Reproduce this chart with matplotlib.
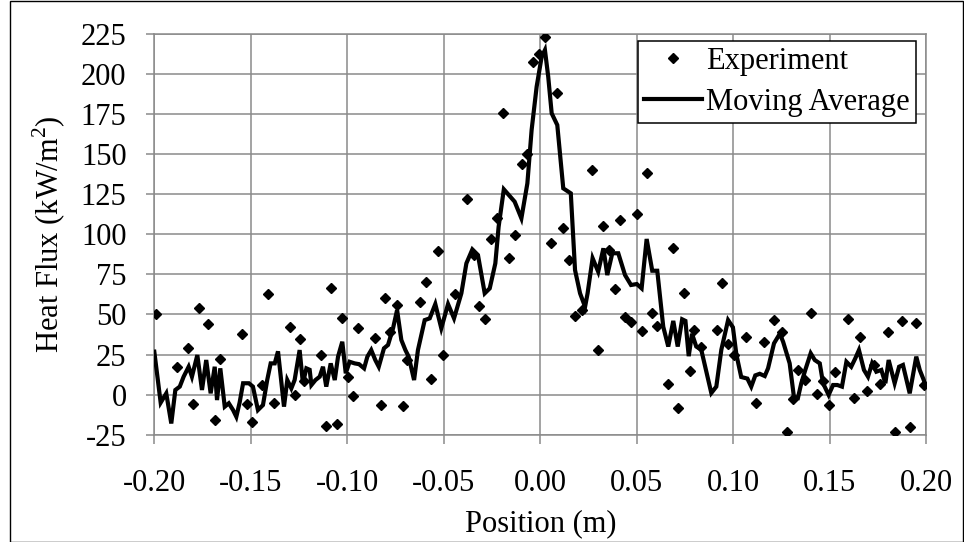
import matplotlib
matplotlib.use('Agg')
import matplotlib.pyplot as plt
from matplotlib.patches import Rectangle
import numpy as np

# measured points (position in m, heat flux in kW/m2)
exp_x = [-0.199, -0.188, -0.1825, -0.180, -0.177, -0.172, -0.1687, -0.166,
         -0.1547, -0.152, -0.1494, -0.144, -0.1409, -0.1381, -0.1298, -0.1273,
         -0.1247, -0.1224, -0.1138, -0.1109, -0.1083, -0.1053, -0.1026, -0.0996,
         -0.0969, -0.0943, -0.0858, -0.0827, -0.0803, -0.0779, -0.0742, -0.0713,
         -0.0689, -0.0622, -0.0594, -0.0565, -0.0532, -0.0504, -0.044, -0.0381,
         -0.0345, -0.0319, -0.0288, -0.0257, -0.0224, -0.0195, -0.0162, -0.0129,
         -0.0096, -0.007, -0.0039, -0.0008, 0.0024, 0.0056, 0.0087, 0.0117,
         0.015, 0.018, 0.0215, 0.0268, 0.030, 0.0327, 0.0358, 0.0385,
         0.0413, 0.0439, 0.0468, 0.050, 0.0528, 0.0551, 0.058, 0.0606,
         0.066, 0.0689, 0.0715, 0.0746, 0.0775, 0.0797, 0.0834, 0.0913,
         0.0944, 0.0973, 0.1002, 0.1064, 0.112, 0.1157, 0.1212, 0.125,
         0.1276, 0.131, 0.1336, 0.1369, 0.1402, 0.1433, 0.1466, 0.1496,
         0.1528, 0.1595, 0.1623, 0.1657, 0.1694, 0.1727, 0.1762, 0.1803,
         0.1838, 0.1876, 0.1915, 0.1948, 0.1989]
exp_y = [50, 17, 29, -6, 54, 44, -16, 22,
         38, -6, -17, 6, 63, -5, 42, 0,
         35, 8.5, 25, -19.5, 66.5, -18.5, 48, 11,
         -1, 41.5, 35.5, -6.5, 60, 39, 56, -7,
         21.6, 57.6, 70, 9.6, 89.4, 24.7, 62.8, 122,
         87, 55, 47, 97, 110.5, 176, 85, 99.5,
         144, 150, 207.7, 212.3, 223, 94.3, 188, 104,
         84, 49.3, 53, 140, 28, 105.4, 90, 65.6,
         109, 48.4, 45.6, 112.8, 40, 138, 50.8, 43,
         6.8, 91.3, -8.5, 63.2, 14.8, 40.3, 29.6, 40.3,
         69.4, 31.3, 24.7, 35.8, -5.4, 33, 46.3, 38.8,
         -23.2, -2.6, 15.6, 9.4, 50.7, 0.5, 8.6, -6.5,
         14.3, 47.2, -2.3, 35.8, 2.1, 18.7, 6.5, 38.9,
         -23.4, 46, -20.2, 44.6, 6]

# moving average curve
avg_x = [-0.2, -0.1967, -0.1938, -0.1912, -0.1891, -0.1868, -0.1848, -0.1822,
         -0.1805, -0.1777, -0.1753, -0.1731, -0.1708, -0.1687, -0.1675, -0.1658,
         -0.1635, -0.1614, -0.1592, -0.1575, -0.1558, -0.154, -0.151, -0.1489,
         -0.1463, -0.1437, -0.1415, -0.1397, -0.1376, -0.1359, -0.1328, -0.1311,
         -0.129, -0.1273, -0.1247, -0.123, -0.1212, -0.1195, -0.1186, -0.1165,
         -0.1143, -0.1126, -0.1109, -0.1086, -0.1065, -0.1048, -0.1026, -0.1008,
         -0.0988, -0.0962, -0.0939, -0.0913, -0.0896, -0.0876, -0.0855, -0.0837,
         -0.081, -0.0789, -0.0763, -0.0742, -0.072, -0.0699, -0.0682, -0.0654,
         -0.0634, -0.0599, -0.0573, -0.0544, -0.0513, -0.0478, -0.0447, -0.0409,
         -0.0383, -0.0352, -0.0323, -0.0288, -0.0262, -0.0233, -0.0216, -0.0189,
         -0.0133, -0.0098, -0.0067, -0.0045, -0.0019, 0.0007, 0.0024, 0.0041,
         0.0059, 0.0088, 0.0119, 0.0158, 0.018, 0.0206, 0.0232, 0.0245,
         0.0271, 0.030, 0.0327, 0.0347, 0.0373, 0.0404, 0.0439, 0.047,
         0.050, 0.0525, 0.0551, 0.058, 0.0606, 0.0637, 0.0663, 0.0689,
         0.0712, 0.0735, 0.0752, 0.0769, 0.0786, 0.0808, 0.0834, 0.0886,
         0.0912, 0.0938, 0.0973, 0.0998, 0.1016, 0.1041, 0.1073, 0.1093,
         0.1114, 0.1137, 0.1163, 0.118, 0.1211, 0.1241, 0.1258, 0.1292,
         0.1314, 0.1335, 0.1352, 0.1373, 0.1401, 0.1422, 0.1448, 0.1465,
         0.1494, 0.1517, 0.1539, 0.1563, 0.1586, 0.1611, 0.1632, 0.1651,
         0.1677, 0.1698, 0.1719, 0.1741, 0.1767, 0.1788, 0.1805, 0.1836,
         0.1859, 0.1879, 0.1914, 0.1948, 0.1966, 0.1997]
avg_y = [26.8, -5, 0.8, -18, 2.9, 5, 11.2, 17.4,
         11.2, 24.7, 2.9, 21.6, 0.8, 17.4, -3.4, 16.4,
         -7.5, -5.4, -9.6, -13.8, -5, 7.1, 7.1, 5,
         -9.6, -6.5, 9.1, 19.5, 19.5, 27, -7.5, 9.1,
         3.9, 9.1, 27.8, 7.1, 16.4, 15.5, 6, 9.1,
         11.2, 17.4, 5, 19.5, 9.1, 23.7, 33, 13.3,
         20.5, 19.5, 19, 16.4, 23.7, 27.8, 21.6, 17.4,
         28.9, 31, 41.4, 52.8, 34.1, 27.8, 23.7, 9.1,
         27.8, 46.5, 47.6, 56.5, 41.4, 56.5, 47.6, 63.2,
         81.9, 90.6, 87.1, 63.2, 66.3, 81.9, 104.7, 128.1,
         120.4, 110, 131.8, 165.1, 192.1, 210.8, 215, 198.4,
         175.5, 168.2, 128.7, 125.6, 77.7, 63.2, 54.8, 63.2,
         85.1, 76.7, 91.3, 74.6, 88.2, 88.2, 74.6, 68.4,
         69, 66.3, 97.1, 77.3, 77.3, 42.4, 30, 46,
         30, 47, 46, 24, 38, 30, 28, 1,
         5, 28, 46.5, 42, 25, 11, 10, 5,
         12, 13, 11.6, 16.4, 32, 38, 33, 19.5,
         -1.3, -2, 7, 15.4, 25.8, 21.6, 19.5, 7.1,
         -0.2, 6, 6, 5, 20.5, 17.4, 22.6, 27.8,
         15.4, 11.2, 19.5, 14.3, 15.4, 7.1, 21.6, 7.1,
         17.4, 18.5, 0.8, 23.7, 15.4, 6]

x_ticks = [-0.20, -0.15, -0.10, -0.05, 0.00, 0.05, 0.10, 0.15, 0.20]
y_ticks = [-25, 0, 25, 50, 75, 100, 125, 150, 175, 200, 225]

plt.rcParams['font.family'] = ['Liberation Serif', 'DejaVu Serif']
plt.rcParams['font.size'] = 22
plt.rcParams['axes.unicode_minus'] = False
plt.rcParams['mathtext.fontset'] = 'custom'
plt.rcParams['mathtext.rm'] = 'Liberation Serif'

W, H = 964, 542
fig = plt.figure(figsize=(W / 100, H / 100), dpi=100)
ax = fig.add_axes([154.3 / W, 1 - 434.7 / H, 772 / W, 400.7 / H])

gcol = '#8a8a8a'
ax.plot(exp_x, exp_y, linestyle='none', marker='D', markersize=4.9,
        color='black', label='Experiment', zorder=3)
ax.plot(avg_x, avg_y, '-', color='black', linewidth=3.0,
        solid_joinstyle='miter', label='Moving Average', zorder=4)

ax.set_xlim(-0.20, 0.20)
ax.set_ylim(-25, 225)
ax.set_xticks(x_ticks)
ax.set_yticks(y_ticks)
ax.set_xticklabels(['%.2f' % v for v in x_ticks])
ax.set_yticklabels([str(v) for v in y_ticks])
ax.grid(True, color=gcol, linewidth=1.1)
ax.set_axisbelow(True)
for s in ax.spines.values():
    s.set_color(gcol)
    s.set_linewidth(1.1)
ax.tick_params(axis='x', direction='out', length=6.5, width=1.1, color=gcol, pad=18)
ax.tick_params(axis='y', direction='out', length=6, width=1.1, color=gcol, pad=14)

ax.set_xlabel('Position (m)', labelpad=8)
ax.set_ylabel('Heat Flux (kW/m$^2$)', labelpad=9)

leg = ax.legend(loc='upper right', bbox_to_anchor=(916 / W, 1 - 40.7 / H),
                bbox_transform=fig.transFigure, borderaxespad=0,
                fancybox=False, framealpha=1, edgecolor='black',
                handlelength=1.9, handletextpad=0.15, borderpad=0.2,
                labelspacing=0.4)
leg.get_frame().set_linewidth(1.1)

# outer chart border
fig.patches.append(Rectangle((10 / W, 0.5 / H), (W - 11) / W, (H - 1) / H,
                             transform=fig.transFigure, fill=False,
                             edgecolor='black', linewidth=1.0))

fig.savefig('out.png', dpi=100)
